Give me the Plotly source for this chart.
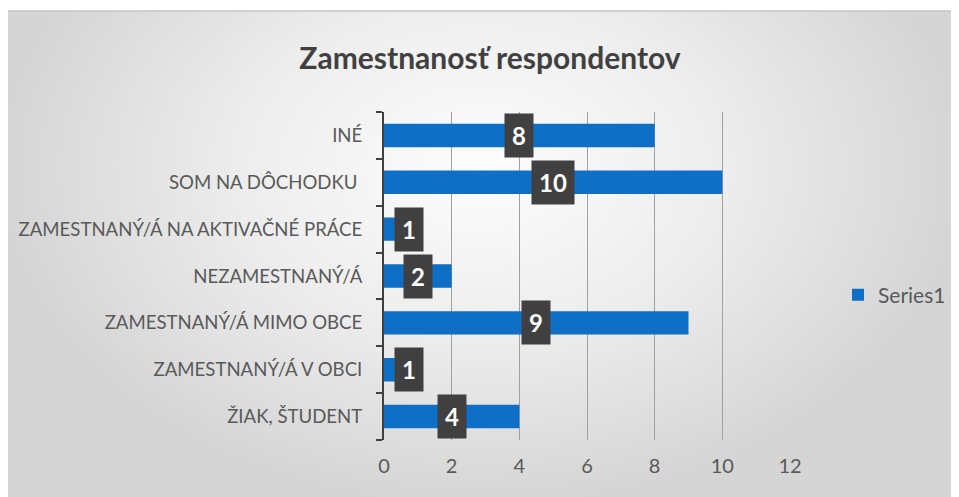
import plotly.graph_objects as go

# categories listed bottom -> top, as drawn
categories = [
    "ŽIAK, ŠTUDENT",
    "ZAMESTNANÝ/Á V OBCI",
    "ZAMESTNANÝ/Á MIMO OBCE",
    "NEZAMESTNANÝ/Á",
    "ZAMESTNANÝ/Á NA AKTIVAČNÉ PRÁCE",
    "SOM NA DÔCHODKU ",
    "INÉ",
]
values = [4, 1, 9, 2, 1, 10, 8]
x_ticks = [0, 2, 4, 6, 8, 10, 12]

bar_color = "#0F6FC6"
text_grey = "#595959"
font_family = "Lato, 'Open Sans', sans-serif"

# the page body has an 8px margin, so the figure is a bit smaller than the window
W, H = 951, 489
OFF = 8
PX_PER_UNIT = 406 / 12

fig = go.Figure()

# background panel with a soft radial gradient (full-figure helper axes x/y);
# the polygon reaches above the page so the light centre sits near the title
fig.add_trace(go.Scatter(
    x=[0, 962, 962, 0, 0], y=[-170, -170, 505, 505, -170],
    mode="lines", fill="toself", line=dict(width=0),
    fillgradient=dict(type="radial",
                      colorscale=[[0, "#fdfdfd"], [0.5, "#ededed"], [1, "#d5d5d5"]]),
    hoverinfo="skip", showlegend=False, xaxis="x", yaxis="y",
))
# top edge of the chart frame, white strip above it
fig.add_shape(type="rect", xref="x", yref="y", x0=0, x1=962, y0=0, y1=11,
              fillcolor="white", line=dict(width=0), layer="above")
fig.add_shape(type="line", xref="x", yref="y", x0=0, x1=962, y0=11, y1=11,
              line=dict(color="#c4c4c4", width=1.5), layer="above")

fig.add_trace(go.Bar(
    x=values, y=categories, orientation="h", name="Series1",
    marker=dict(color=bar_color, line=dict(width=0)),
    width=0.5, xaxis="x2", yaxis="y2",
))

# dark data-label boxes centred on each bar (nudged right if they would hit the axis)
for cat, v in zip(categories, values):
    half = v / 2 * PX_PER_UNIT
    fig.add_annotation(
        x=v / 2, y=cat, xref="x2", yref="y2", text="<b>%d</b>" % v, showarrow=False,
        font=dict(family=font_family, size=24, color="white"),
        bgcolor="#404040", borderpad=7,
        xshift=max(0, 25 - half),
    )

fig.update_layout(
    width=W, height=H,
    margin=dict(l=0, r=0, t=0, b=0, autoexpand=False),
    paper_bgcolor="white",
    plot_bgcolor="rgba(0,0,0,0)",
    font=dict(family=font_family, color=text_grey),
    title=dict(text="<b>Zamestnanosť respondentov</b>", xref="container", yref="container",
               x=(490 - OFF) / W, xanchor="center",
               y=1 - (58 - OFF) / H, yanchor="middle",
               font=dict(family=font_family, size=30, color="#404040")),
    showlegend=True,
    legend=dict(xref="container", yref="container", x=(838 - OFF) / W, y=1 - (295 - OFF) / H,
                xanchor="left", yanchor="middle",
                font=dict(size=21, color=text_grey),
                bgcolor="rgba(0,0,0,0)", itemwidth=30),
    bargap=0.5,
    xaxis=dict(domain=[0, 1], range=[OFF, OFF + W], visible=False, fixedrange=True),
    yaxis=dict(domain=[0, 1], range=[OFF + H, OFF], visible=False, fixedrange=True),
    xaxis2=dict(
        domain=[(384 - OFF) / W, (790 - OFF) / W], anchor="y2", automargin=False,
        range=[0, 12], tickvals=x_ticks, showgrid=True, gridcolor="#a0a0a0", gridwidth=1.3,
        zeroline=False, showline=False, ticks="",
        tickfont=dict(size=20, color=text_grey), ticklabelstandoff=12,
    ),
    yaxis2=dict(
        domain=[1 - (440 - OFF) / H, 1 - (112 - OFF) / H], anchor="x2", automargin=False,
        type="category", categoryorder="array", categoryarray=categories,
        showline=True, linecolor="#404040", linewidth=2,
        ticks="outside", tickson="boundaries", ticklen=6, tickcolor="#404040", tickwidth=2,
        tickfont=dict(size=18.6, color=text_grey), ticklabelstandoff=16,
        showgrid=False,
    ),
)

fig.write_html("out.html")
